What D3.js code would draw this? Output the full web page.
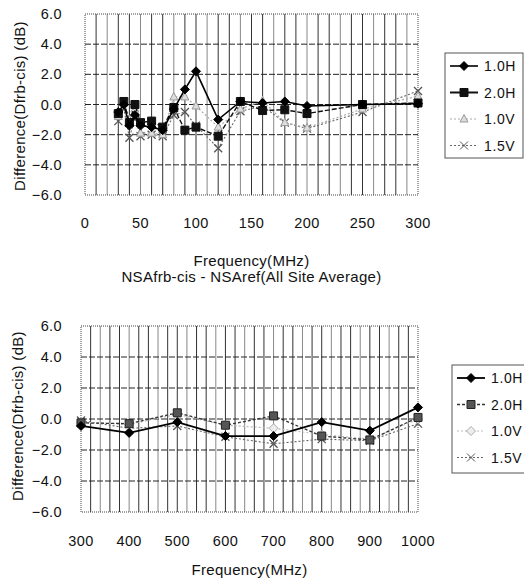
<!DOCTYPE html>
<meta charset="utf-8">
<head>
    <script src="https://d3js.org/d3.v7.min.js"></script>
    <style>
        body { margin: 0; background: #fff; }
        text { font-family: "Liberation Sans", Arial, sans-serif; fill: #111; }
        .tick-label { font-size: 14.5px; letter-spacing: 0.4px; }
        .axis-title { font-size: 15px; letter-spacing: 0.3px; }
        .legend-label { font-size: 14px; letter-spacing: 0.6px; }
    </style>
    <title>NSA difference</title>
</head>
<body>
<svg id="chart" width="524" height="583"></svg>

<script>

    // series names, shared by both charts
    var seriesNames = ["1.0H", "2.0H", "1.0V", "1.5V"];
    var yTicks = [-6, -4, -2, 0, 2, 4, 6];

    // upper chart : 30 - 300 MHz
    var freqLow = [30, 35, 40, 45, 50, 60, 70, 80, 90, 100, 120, 140, 160, 180, 200, 250, 300];
    var low10H = [-0.5, 0.0, -1.4, -0.7, -1.4, -1.5, -1.7, -0.3, 1.0, 2.2, -1.0, 0.2, 0.1, 0.2, -0.1, 0.0, 0.05];
    var low20H = [-0.6, 0.2, -1.2, 0.0, -1.2, -1.1, -1.5, -0.2, -1.7, -1.5, -2.1, 0.2, -0.4, -0.35, -0.6, 0.0, 0.1];
    var low10V = [-0.8, 0.1, -1.0, -0.3, -1.9, -1.9, -2.0, 0.5, 0.5, -0.1, -1.5, -0.3, 0.25, -1.2, -1.55, -0.3, 0.55];
    var low15V = [-1.1, -0.3, -2.2, -0.9, -2.1, -2.0, -2.1, -0.7, -0.5, -1.4, -2.9, -0.45, -0.1, -1.2, -1.6, -0.5, 0.9];
    var xTicksLow = [0, 50, 100, 150, 200, 250, 300];

    // lower chart : 300 - 1000 MHz
    var freqHigh = [300, 400, 500, 600, 700, 800, 900, 1000];
    var high10H = [-0.45, -0.9, -0.2, -1.1, -1.1, -0.2, -0.75, 0.75];
    var high20H = [-0.25, -0.3, 0.4, -0.4, 0.2, -1.1, -1.35, 0.1];
    var high10V = [-0.2, -0.35, 0.3, -0.4, -0.6, -1.0, -1.3, 0.0];
    var high15V = [-0.1, -0.6, -0.45, -1.15, -1.6, -1.3, -1.4, -0.3];
    var xTicksHigh = [300, 400, 500, 600, 700, 800, 900, 1000];

    var svg = d3.select("#chart");

    function markerPath(type) {
        if (type === "diamond") return "M0,-4.5L4.5,0L0,4.5L-4.5,0Z";
        if (type === "square") return "M-4,-4H4V4H-4Z";
        if (type === "triangle") return "M0,-4.5L4,3L-4,3Z";
        return "M-4,-4L4,4M-4,4L4,-4";   // x
    }

    function Draw(cfg) {
        var x = d3.scaleLinear().domain(cfg.xDomain).range([cfg.left, cfg.right]);
        var y = d3.scaleLinear().domain([-6, 6]).range([cfg.bottom, cfg.top]);
        var g = svg.append("g");

        // vertical grid
        g.selectAll(".vgrid")
            .data(d3.range(cfg.xDomain[0] + cfg.minor, cfg.xDomain[1], cfg.minor))
            .enter().append("line")
            .attr("x1", function (d) { return x(d); })
            .attr("x2", function (d) { return x(d); })
            .attr("y1", cfg.top).attr("y2", cfg.bottom)
            .attr("stroke", function (d, i) { return i % 3 === 1 ? "#888" : "#333"; })
            .attr("stroke-width", 1);

        // horizontal grid
        g.selectAll(".hgrid")
            .data(yTicks.slice(1, -1))
            .enter().append("line")
            .attr("x1", cfg.left).attr("x2", cfg.right)
            .attr("y1", function (d) { return y(d); })
            .attr("y2", function (d) { return y(d); })
            .attr("stroke", "#222")
            .attr("stroke-dasharray", "6,2");

        // frame
        g.append("rect")
            .attr("x", cfg.left).attr("y", cfg.top)
            .attr("width", cfg.right - cfg.left).attr("height", cfg.bottom - cfg.top)
            .attr("fill", "none").attr("stroke", "#444").attr("stroke-dasharray", "1,1");

        // tick labels
        g.selectAll(".ylab")
            .data(yTicks)
            .enter().append("text")
            .attr("class", "tick-label")
            .attr("x", cfg.yLabelX)
            .attr("y", function (d) { return y(d) + 5; })
            .attr("text-anchor", "end")
            .text(function (d) { return d3.format(".1f")(d); });

        g.selectAll(".xlab")
            .data(cfg.xTicks)
            .enter().append("text")
            .attr("class", "tick-label")
            .attr("x", function (d) { return x(d); })
            .attr("y", cfg.bottom + cfg.tickOffset)
            .attr("text-anchor", "middle")
            .text(function (d) { return d; });

        g.append("text")
            .attr("class", "axis-title")
            .attr("transform", "translate(" + cfg.titleX + "," + cfg.titleMid + ") rotate(-90)")
            .attr("text-anchor", "middle")
            .attr("dy", "0.35em")
            .text("Difference(Dfrb-cis) (dB)");

        var cx = (cfg.left + cfg.right) / 2;
        cfg.xTitles.forEach(function (t, i) {
            g.append("text")
                .attr("class", "axis-title")
                .attr("x", cx)
                .attr("y", cfg.bottom + cfg.titleOffset + i * 16)
                .attr("text-anchor", "middle")
                .text(t);
        });

        // series
        var line = d3.line()
            .x(function (d) { return x(d[0]); })
            .y(function (d) { return y(d[1]); });

        var styles = cfg.styles;
        // draw lighter series first so the black ones stay on top
        [3, 2, 1, 0].forEach(function (k) {
            var pts = cfg.freq.map(function (f, i) { return [f, cfg.values[k][i]]; });
            var st = styles[k];
            g.append("path")
                .attr("d", line(pts))
                .attr("fill", "none")
                .attr("stroke", st.stroke)
                .attr("stroke-width", st.width)
                .attr("stroke-dasharray", st.dash);
            g.selectAll(".m" + k)
                .data(pts)
                .enter().append("path")
                .attr("transform", function (d) { return "translate(" + x(d[0]) + "," + y(d[1]) + ")"; })
                .attr("d", markerPath(st.marker))
                .attr("fill", st.marker === "x" ? "none" : st.fill)
                .attr("stroke", st.mstroke)
                .attr("stroke-width", st.marker === "x" ? 1.3 : 1);
        });

        // legend
        var lg = svg.append("g");
        lg.append("rect")
            .attr("x", cfg.legend.x).attr("y", cfg.legend.y)
            .attr("width", cfg.legend.w).attr("height", cfg.legend.h)
            .attr("fill", "#fff").attr("stroke", "#555");
        seriesNames.forEach(function (name, k) {
            var st = styles[k];
            var ly = cfg.legend.y + 13 + k * 26.5;
            var lx = cfg.legend.x + 5;
            lg.append("line")
                .attr("x1", lx).attr("x2", lx + 28)
                .attr("y1", ly).attr("y2", ly)
                .attr("stroke", st.legendStroke || st.stroke)
                .attr("stroke-width", st.legendWidth || st.width)
                .attr("stroke-dasharray", st.legendDash === undefined ? st.dash : st.legendDash);
            lg.append("path")
                .attr("transform", "translate(" + (lx + 14) + "," + ly + ")")
                .attr("d", markerPath(st.marker))
                .attr("fill", st.marker === "x" ? "none" : st.fill)
                .attr("stroke", st.mstroke);
            lg.append("text")
                .attr("class", "legend-label")
                .attr("x", lx + 34)
                .attr("y", ly + 5)
                .text(name);
        });
    }

    Draw({
        left: 85, right: 418, top: 14, bottom: 195,
        xDomain: [0, 300], minor: 10,
        xTicks: xTicksLow, tickOffset: 33,
        yLabelX: 62, titleX: 20, titleMid: 106,
        xTitles: ["Frequency(MHz)", "NSAfrb-cis - NSAref(All Site Average)"], titleOffset: 71,
        freq: freqLow,
        values: [low10H, low20H, low10V, low15V],
        legend: {x: 445, y: 53, w: 78, h: 105},
        styles: [
            {stroke: "#000", width: 1.6, dash: null, marker: "diamond", fill: "#000", mstroke: "#000"},
            {stroke: "#111", width: 1.4, dash: "5,2", marker: "square", fill: "#111", mstroke: "#111",
                legendDash: null, legendWidth: 2},
            {stroke: "#aaa", width: 1.2, dash: "2,2", marker: "triangle", fill: "#ddd", mstroke: "#999"},
            {stroke: "#666", width: 1.1, dash: "2,2", marker: "x", fill: "none", mstroke: "#555"}
        ]
    });

    Draw({
        left: 81, right: 418, top: 326, bottom: 512,
        xDomain: [300, 1000], minor: 20,
        xTicks: xTicksHigh, tickOffset: 34,
        yLabelX: 62, titleX: 18, titleMid: 416,
        xTitles: ["Frequency(MHz)"], titleOffset: 63,
        freq: freqHigh,
        values: [high10H, high20H, high10V, high15V],
        legend: {x: 452, y: 365, w: 80, h: 108},
        styles: [
            {stroke: "#000", width: 1.8, dash: null, marker: "diamond", fill: "#000", mstroke: "#000"},
            {stroke: "#333", width: 1.3, dash: "3,2", marker: "square", fill: "#555", mstroke: "#222"},
            {stroke: "#bbb", width: 1.2, dash: "2,2", marker: "diamond", fill: "#eee", mstroke: "#aaa"},
            {stroke: "#666", width: 1.1, dash: "2,2", marker: "x", fill: "none", mstroke: "#555"}
        ]
    });

</script>
</body>
